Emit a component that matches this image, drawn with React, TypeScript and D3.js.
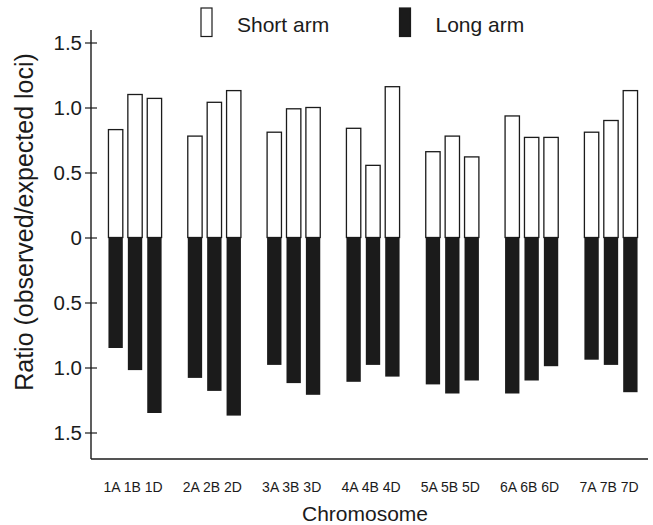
import { useEffect, useRef } from 'react'
import * as d3 from 'd3'

// chromosome groups and the genomes inside each group
const groups = ['1', '2', '3', '4', '5', '6', '7']
const genomes = ['A', 'B', 'D']

// ratio observed/expected loci, per chromosome in order 1A 1B 1D 2A ...
const shortArm = [
  0.83, 1.10, 1.07,
  0.78, 1.04, 1.13,
  0.81, 0.99, 1.0,
  0.84, 0.555, 1.16,
  0.66, 0.78, 0.62,
  0.935, 0.77, 0.77,
  0.81, 0.90, 1.13,
]
const longArm = [
  0.85, 1.02, 1.35,
  1.08, 1.18, 1.37,
  0.98, 1.12, 1.21,
  1.11, 0.98, 1.07,
  1.13, 1.20, 1.10,
  1.20, 1.10, 0.99,
  0.94, 0.98, 1.19,
]

const yTicks = [-1.5, -1.0, -0.5, 0, 0.5, 1.0, 1.5]

const FONT = '"Liberation Sans", Arial, Helvetica, sans-serif'
const INK = '#1b1b1b'

const App = () => {
  const chartRef = useRef<SVGSVGElement>(null)

  useEffect(() => {
    if (!chartRef.current) return
    const svg = d3.select(chartRef.current)
    svg.selectAll('*').remove()

    const axisX = 91
    const axisBottom = 459
    const axisRight = 648

    // 比例尺: 正值向上 (short arm), 負值向下 (long arm)
    const y = d3.scaleLinear().domain([-1.5, 1.5]).range([432.5, 42.5])

    const x0 = d3.scaleBand<string>()
      .domain(groups)
      .range([axisX, 655])
      .paddingInner(0.33)
      .paddingOuter(0.22)

    const x1 = d3.scaleBand<string>()
      .domain(genomes)
      .range([0, x0.bandwidth()])
      .paddingInner(0.26)

    const data = groups.flatMap((g, gi) =>
      genomes.map((c, ci) => ({
        group: g,
        genome: c,
        short: shortArm[gi * 3 + ci],
        long: longArm[gi * 3 + ci],
      }))
    )

    // short arm bars (白色)
    svg.append('g')
      .selectAll('rect')
      .data(data)
      .enter()
      .append('rect')
      .attr('x', d => (x0(d.group) as number) + (x1(d.genome) as number))
      .attr('y', d => y(d.short))
      .attr('width', x1.bandwidth())
      .attr('height', d => y(0) - y(d.short))
      .attr('fill', 'white')
      .attr('stroke', INK)
      .attr('stroke-width', 1.3)

    // long arm bars (黑色)
    svg.append('g')
      .selectAll('rect')
      .data(data)
      .enter()
      .append('rect')
      .attr('x', d => (x0(d.group) as number) + (x1(d.genome) as number))
      .attr('y', y(0))
      .attr('width', x1.bandwidth())
      .attr('height', d => y(-d.long) - y(0))
      .attr('fill', INK)

    // Y 軸
    const yAxis = svg.append('g')
      .attr('transform', `translate(${axisX},0)`)
      .call(
        d3.axisLeft(y)
          .tickValues(yTicks)
          .tickSize(6)
          .tickPadding(5)
          .tickFormat(d => (d === 0 ? '0' : Math.abs(d as number).toFixed(1)))
      )
    yAxis.select('.domain').remove()
    yAxis.selectAll('.tick line')
      .attr('x1', 6)
      .attr('x2', -6)
      .attr('stroke', INK)
      .attr('stroke-width', 1.2)
    yAxis.selectAll('.tick text')
      .attr('x', -9)
      .attr('dy', '0.36em')
      .style('font-family', FONT)
      .style('font-size', '20.5px')
      .attr('fill', INK)

    // axis lines
    svg.append('line')
      .attr('x1', axisX).attr('x2', axisX)
      .attr('y1', 30).attr('y2', axisBottom)
      .attr('stroke', INK).attr('stroke-width', 1.4)
    svg.append('line')
      .attr('x1', axisX).attr('x2', axisRight)
      .attr('y1', axisBottom).attr('y2', axisBottom)
      .attr('stroke', INK).attr('stroke-width', 1.4)

    // 染色體標籤
    svg.append('g')
      .selectAll('text')
      .data(groups)
      .enter()
      .append('text')
      .attr('x', d => (x0(d) as number) + x0.bandwidth() / 2 - 2)
      .attr('y', 492)
      .attr('text-anchor', 'middle')
      .style('font-family', FONT)
      .style('font-size', '14px')
      .attr('fill', INK)
      .text(d => genomes.map(c => d + c).join(' '))

    // 軸標題
    svg.append('text')
      .attr('x', 365)
      .attr('y', 521)
      .attr('text-anchor', 'middle')
      .style('font-family', FONT)
      .style('font-size', '21px')
      .attr('fill', INK)
      .text('Chromosome')

    svg.append('text')
      .attr('transform', 'translate(33,222) rotate(-90)')
      .attr('text-anchor', 'middle')
      .style('font-family', FONT)
      .style('font-size', '25px')
      .attr('fill', INK)
      .text('Ratio (observed/expected loci)')

    // 圖例
    const legend = [
      { label: 'Short arm', fill: 'white', x: 201 },
      { label: 'Long arm', fill: INK, x: 399.5 },
    ]
    const lg = svg.append('g')
      .selectAll('g')
      .data(legend)
      .enter()
      .append('g')
      .attr('transform', d => `translate(${d.x},8)`)
    lg.append('rect')
      .attr('width', 11)
      .attr('height', 28.5)
      .attr('fill', d => d.fill)
      .attr('stroke', INK)
      .attr('stroke-width', 1.2)
    lg.append('text')
      .attr('x', 36)
      .attr('y', 23.5)
      .style('font-family', FONT)
      .style('font-size', '21px')
      .attr('fill', INK)
      .text(d => d.label)
  }, [])

  return (
    <svg
      ref={chartRef}
      width={653}
      height={525}
      style={{ position: 'absolute', left: 0, top: 0, background: 'white' }}
    />
  )
}

export default App
